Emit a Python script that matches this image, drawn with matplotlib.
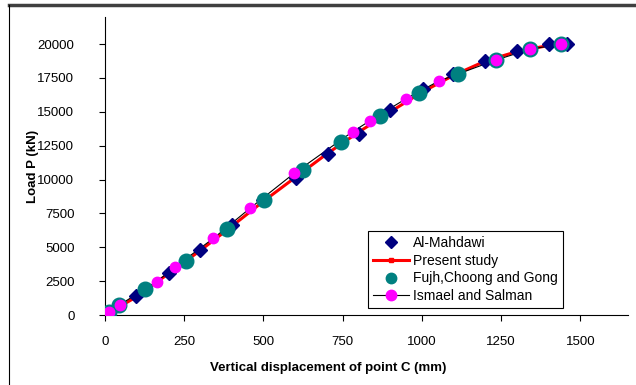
import numpy as np
import matplotlib
matplotlib.use("Agg")
import matplotlib.pyplot as plt
from matplotlib.lines import Line2D

# data
mahdawi_x = [0, 98, 201, 300, 402, 500, 602, 702, 802, 900, 1002, 1098, 1200, 1301, 1400, 1456]
mahdawi_y = [0, 1380, 3120, 4800, 6640, 8500, 10100, 11900, 13330, 15130, 16660, 17760, 18770, 19480, 20000, 20000]

present_x = [0, 100, 200, 300, 400, 500, 600, 700, 800, 900, 1000, 1100, 1200, 1300, 1400, 1450]
present_y = [0, 1350, 3050, 4750, 6550, 8400, 10150, 11900, 13500, 15000, 16450, 17700, 18750, 19450, 19900, 20000]

fujh_x = [14, 45, 126, 255, 384, 501, 625, 743, 867, 991, 1114, 1233, 1342, 1440]
fujh_y = [200, 740, 1900, 4000, 6320, 8490, 10700, 12790, 14690, 16400, 17790, 18820, 19630, 20000]

ismael_x = [14, 47, 163, 222, 342, 457, 596, 781, 836, 949, 1053, 1233, 1342, 1440]
ismael_y = [240, 760, 2460, 3570, 5660, 7870, 10450, 13530, 14340, 15960, 17270, 18820, 19630, 20000]

plt.rcParams['font.family'] = ['Liberation Sans', 'DejaVu Sans']
plt.rcParams['font.size'] = 9.5

fig = plt.figure(figsize=(6.36, 3.85), dpi=100)
ax = fig.add_axes([105/636, 1 - 315/385, 523/636, 298/385])

ax.plot(present_x, present_y, color="#FF0000", lw=2.2, marker="s", ms=2.5,
        label="Present study", zorder=2)
ax.plot(ismael_x, ismael_y, color="black", lw=0.8, zorder=3)
ax.plot(mahdawi_x, mahdawi_y, ls="none", marker="D", ms=7, color="#000080",
        label="Al-Mahdawi", zorder=4)
ax.plot(fujh_x, fujh_y, ls="none", marker="o", ms=10.5, color="#008080",
        label="Fujh,Choong and Gong", zorder=5)
ax.plot(ismael_x, ismael_y, ls="none", marker="o", ms=7.5, color="#FF00FF",
        zorder=6)

ax.set_xlim(0, 1650)
ax.set_ylim(0, 22000)
ax.set_xticks(np.arange(0, 1501, 250))
ax.set_yticks(np.arange(0, 20001, 2500))
ax.spines["top"].set_visible(False)
ax.spines["right"].set_visible(False)
ax.tick_params(axis="y", direction="out", length=4, pad=18)
ax.tick_params(axis="x", direction="out", length=4, pad=11)

ax.set_xlabel("Vertical displacement of point C (mm)", fontweight="bold")
ax.set_ylabel("Load P (kN)", fontweight="bold")
ax.xaxis.set_label_coords(0.426, -0.158)
ax.yaxis.set_label_coords(-0.126, 0.5)

handles = [
    Line2D([], [], ls="none", marker="D", ms=6, color="#000080"),
    Line2D([], [], color="#FF0000", lw=2.2, marker="s", ms=2.5),
    Line2D([], [], ls="none", marker="o", ms=7.5, color="#008080"),
    Line2D([], [], color="black", lw=0.8, marker="o", ms=7.5,
           mfc="#FF00FF", mec="#FF00FF"),
]
labels = ["Al-Mahdawi", "Present study", "Fujh,Choong and Gong", "Ismael and Salman"]
leg = ax.legend(handles, labels, loc="lower left", bbox_to_anchor=(0.503, 0.023),
                fancybox=False, framealpha=1, edgecolor="black", fontsize=10,
                borderpad=0.35, labelspacing=0.28, handlelength=2.6,
                handletextpad=0.3, borderaxespad=0)
leg.get_frame().set_linewidth(0.8)

# outer chart frame (cropped)
fig.add_artist(Line2D([9/636, 1], [1 - 5/385, 1 - 5/385], color="#404040", lw=2.5))
fig.add_artist(Line2D([9/636, 9/636], [0, 1 - 5/385], color="black", lw=0.8))

fig.savefig("out.png", dpi=100)
